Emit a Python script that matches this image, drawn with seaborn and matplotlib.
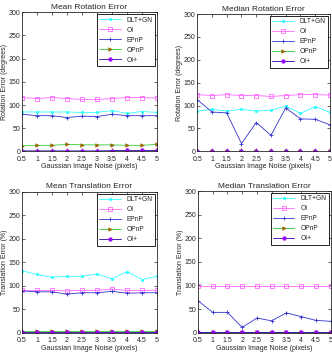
import numpy as np
import pandas as pd
import seaborn as sns
import matplotlib
matplotlib.use("Agg")
import matplotlib.pyplot as plt

# noise levels (pixels)
noise = [0.5, 1, 1.5, 2, 2.5, 3, 3.5, 4, 4.5, 5]
methods = ["DLT+GN", "OI", "EPnP", "OPnP", "OI+"]

# mean rotation error (degrees)
mean_rot = {
    "DLT+GN": [85, 85, 85, 85, 84, 84, 88, 82, 86, 84],
    "OI":     [116, 114, 116, 114, 112, 112, 114, 116, 116, 115],
    "EPnP":   [80, 77, 77, 73, 76, 75, 80, 77, 77, 77],
    "OPnP":   [12, 13, 13, 15, 14, 14, 14, 13, 13, 15],
    "OI+":    [1, 1, 1, 1, 1, 1, 1.5, 2, 2, 2],
}
# median rotation error (degrees)
med_rot = {
    "DLT+GN": [88, 92, 88, 92, 88, 90, 99, 83, 98, 85],
    "OI":     [124, 122, 124, 122, 122, 120, 122, 124, 124, 123],
    "EPnP":   [113, 86, 84, 17, 63, 35, 95, 71, 70, 58],
    "OPnP":   [1, 1, 1, 1, 1, 1, 1, 1, 1, 1],
    "OI+":    [0.5, 0.5, 0.5, 0.5, 0.5, 0.5, 0.5, 0.5, 0.5, 0.5],
}
# mean translation error (%)
mean_tra = {
    "DLT+GN": [132, 124, 118, 120, 120, 125, 115, 130, 113, 120],
    "OI":     [90, 90, 90, 89, 90, 90, 93, 90, 90, 90],
    "EPnP":   [89, 87, 87, 82, 85, 85, 88, 84, 85, 85],
    "OPnP":   [4, 4, 4, 4, 4, 4, 4, 4, 4, 4],
    "OI+":    [1, 1, 1, 1, 1, 1, 1, 1, 1, 1],
}
# median translation error (%)
med_tra = {
    "DLT+GN": [1, 1, 1, 1, 1, 1, 1, 1, 1, 1],
    "OI":     [98, 98, 98, 98, 98, 98, 98, 98, 98, 98],
    "EPnP":   [68, 43, 43, 11, 31, 25, 42, 34, 26, 24],
    "OPnP":   [1, 1, 1, 1, 1, 1, 1, 1, 1, 1],
    "OI+":    [0.5, 0.5, 0.5, 0.5, 0.5, 0.5, 0.5, 0.5, 0.5, 0.5],
}

styles = {
    "DLT+GN": dict(color="#33ffff", marker=(6, 2, 0), markersize=2.2, mfc="#33ffff", mec="#33ffff", mew=0.5),
    "OI":     dict(color="#ff66ff", marker="s", markersize=3, mfc="none", mec="#ff66ff", mew=0.6),
    "EPnP":   dict(color="#3333cc", marker="+", markersize=3.2, mfc="#3333cc", mec="#3333cc", mew=0.6),
    "OPnP":   dict(color="#33cc33", marker=">", markersize=2.6, mfc="#996600", mec="#996600", mew=0.4),
    "OI+":    dict(color="#3300aa", marker="o", markersize=2.6, mfc="#9900ff", mec="#9900ff", mew=0.4),
}

sns.set_style("ticks")
plt.rcParams['font.family'] = ['Liberation Sans', 'DejaVu Sans']

fig = plt.figure(figsize=(3.32, 3.52), dpi=100)
panels = [
    ([0.066, 0.57, 0.407, 0.395], mean_rot, "Mean Rotation Error", "Rotation Error (degrees)"),
    ([0.594, 0.57, 0.400, 0.39], med_rot, "Median Rotation Error", "Rotation Error (degrees)"),
    ([0.066, 0.055, 0.407, 0.40], mean_tra, "Mean Translation Error", "Translation Error (%)"),
    ([0.596, 0.055, 0.400, 0.402], med_tra, "Median Translation Error", "Translation Error (%)"),
]

for rect, data, title, ylabel in panels:
    ax = fig.add_axes(rect)
    df = pd.DataFrame(data)
    df["noise"] = noise
    long = df.melt(id_vars="noise", var_name="method", value_name="err")
    for m in methods:
        st = styles[m]
        sub = long[long["method"] == m]
        sns.lineplot(data=sub, x="noise", y="err", ax=ax, color=st["color"],
                     marker=st["marker"], markersize=st["markersize"],
                     markerfacecolor=st["mfc"], markeredgecolor=st["mec"],
                     markeredgewidth=st["mew"], linewidth=0.6, label=m)
    ax.set_xlim(0.5, 5)
    ax.set_ylim(0, 300)
    ax.set_xticks(noise)
    ax.set_xticklabels(["0.5", "1", "1.5", "2", "2.5", "3", "3.5", "4", "4.5", "5"])
    ax.set_yticks([0, 50, 100, 150, 200, 250, 300])
    ax.tick_params(direction="in", labelsize=5, length=2, width=0.5, pad=1.2, top=True, right=True)
    ax.tick_params(axis="x", pad=3)
    for s in ax.spines.values():
        s.set_linewidth(0.6)
    ax.set_title(title, fontsize=6, pad=2.5)
    ax.set_xlabel("Gaussian Image Noise (pixels)", fontsize=5, labelpad=0.5)
    ax.set_ylabel(ylabel, fontsize=5, labelpad=0.5)
    leg = ax.legend(loc="upper right", fontsize=4.8, frameon=True, fancybox=False,
                    edgecolor="black", framealpha=1, borderpad=0.35, labelspacing=0.45,
                    handlelength=3.2, handletextpad=0.9, borderaxespad=0.3)
    leg.get_frame().set_linewidth(0.6)

fig.savefig("out.png", dpi=100)
